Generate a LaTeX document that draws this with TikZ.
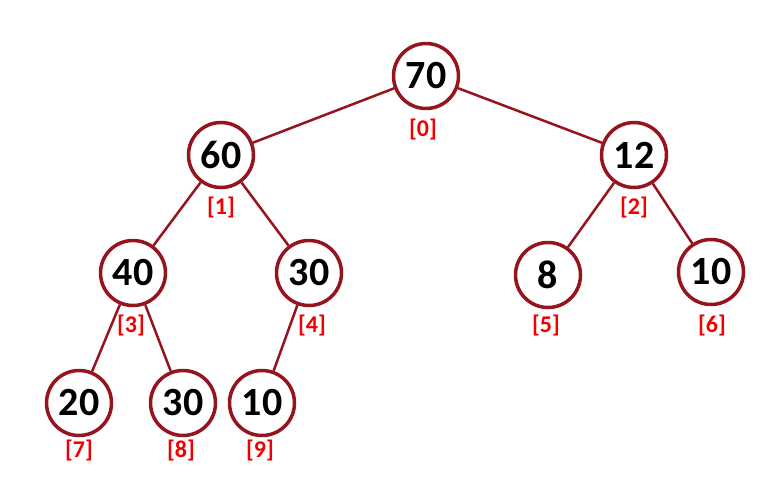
\documentclass[tikz,border=0pt]{standalone}
\usepackage{fontspec}
\setmainfont{Carlito}
\definecolor{ring}{RGB}{150,20,30}
\definecolor{idx}{RGB}{240,0,0}
\begin{document}
\begin{tikzpicture}[x=1pt,y=-1pt,
  hnode/.style={circle,draw=ring,line width=3.5pt,fill=white,minimum size=65pt,inner sep=0pt,font=\fontsize{40}{44}\selectfont\bfseries},
  idxlab/.style={text=idx,font=\fontsize{24}{26}\selectfont\bfseries,inner sep=0pt},
  edge/.style={draw=ring,line width=2.5pt}]
\useasboundingbox (0,0) rectangle (760,479);
\node[hnode] (n0) at (426,76) {70};
\node[hnode] (n1) at (221,155) {60};
\node[hnode] (n2) at (634,155) {12};
\node[hnode] (n3) at (133,273) {40};
\node[hnode] (n4) at (309,273) {30};
\node[hnode] (n5) at (548,275) {8};
\node[hnode] (n6) at (711,272) {10};
\node[hnode] (n7) at (79,403) {20};
\node[hnode] (n8) at (183,403) {30};
\node[hnode] (n9) at (262,403) {10};
\node[idxlab] (l0) at (423,130) {[0]};
\node[idxlab] (l1) at (221,208) {[1]};
\node[idxlab] (l2) at (634,208) {[2]};
\node[idxlab] (l3) at (131,326) {[3]};
\node[idxlab] (l4) at (312,326) {[4]};
\node[idxlab] (l5) at (546,326) {[5]};
\node[idxlab] (l6) at (712,326) {[6]};
\node[idxlab] (l7) at (79,451) {[7]};
\node[idxlab] (l8) at (181,451) {[8]};
\node[idxlab] (l9) at (260,451) {[9]};
\draw[edge] (n0) -- (n1);
\draw[edge] (n0) -- (n2);
\draw[edge] (n1) -- (n3);
\draw[edge] (n1) -- (n4);
\draw[edge] (n2) -- (n5);
\draw[edge] (n2) -- (n6);
\draw[edge] (n3) -- (n7);
\draw[edge] (n3) -- (n8);
\draw[edge] (n4) -- (n9);
\end{tikzpicture}
\end{document}
